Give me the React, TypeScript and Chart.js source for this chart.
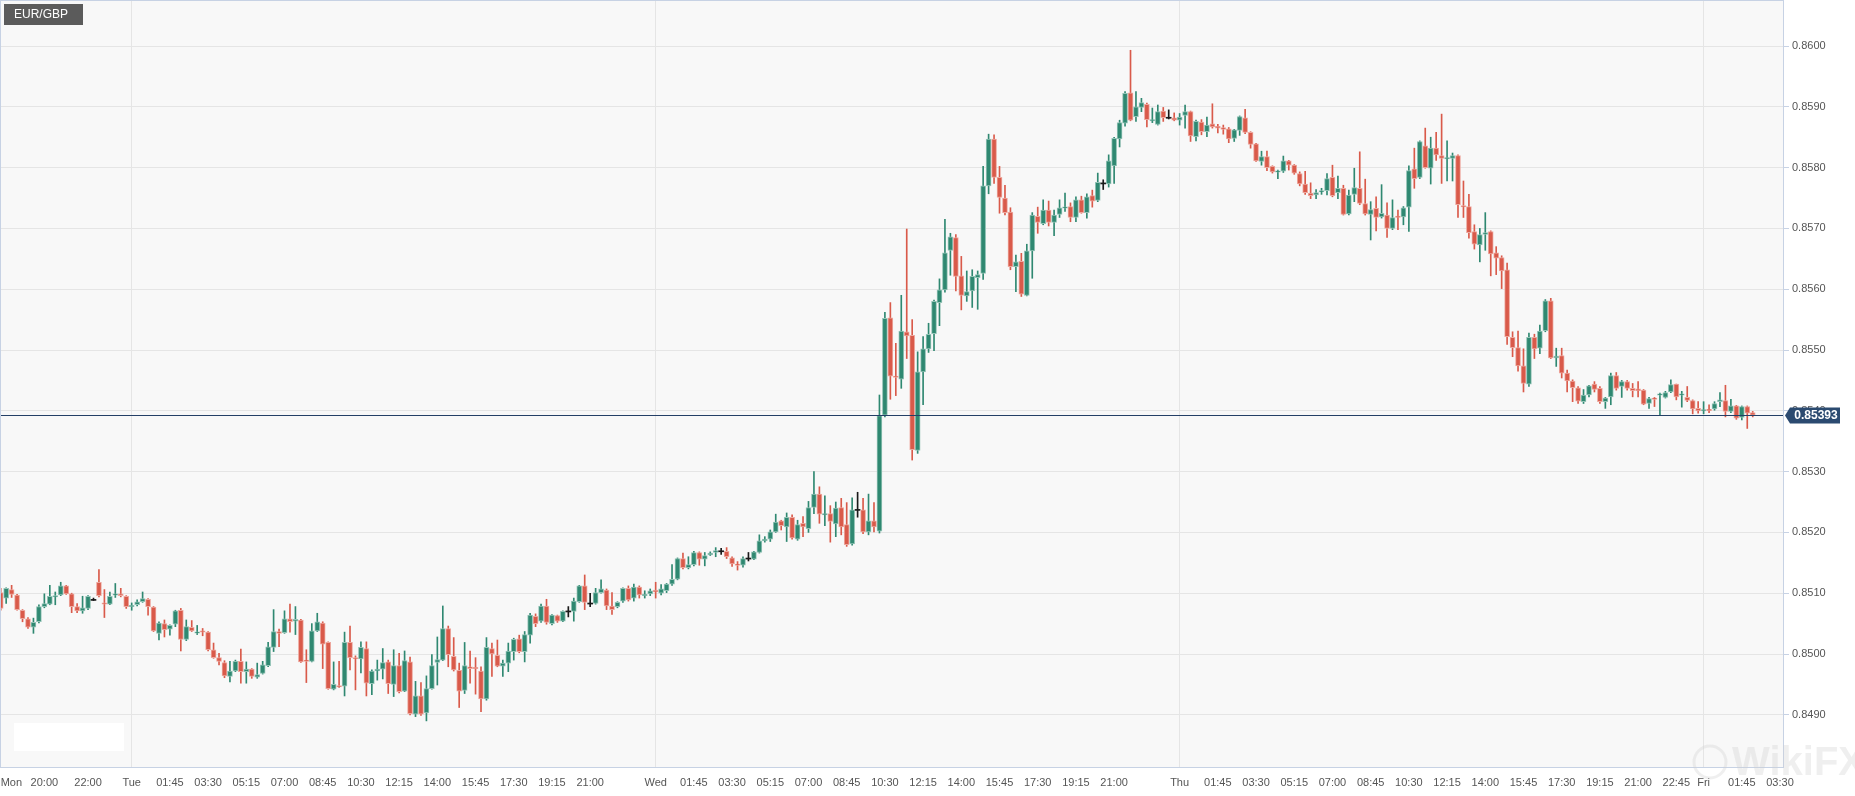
import React, { useEffect, useRef } from "react";
import { Chart, registerables } from "chart.js";

Chart.register(...registerables);

// 15-minute EUR/GBP candles, slot 0 = Mon 18:00
const openPrices = [
  0.85101, 0.85092, 0.85106, 0.85097, 0.85072, 0.85058, 0.85044, 0.85053, 0.85078, 0.85082,
  0.85094, 0.85097, 0.85112, 0.85099, 0.85078, 0.85071, 0.85075, 0.85089, 0.85118, 0.85084,
  0.85082, 0.85097, 0.85099, 0.85095, 0.85078, 0.85081, 0.85086, 0.8509, 0.85077, 0.85034,
  0.8505, 0.85041, 0.85049, 0.85072, 0.85024, 0.85044, 0.85035, 0.85038, 0.85036, 0.85007,
  0.84994, 0.84986, 0.84963, 0.84972, 0.84988, 0.84971, 0.84975, 0.84962, 0.84968, 0.84981,
  0.85011, 0.85037, 0.85035, 0.85058, 0.85054, 0.85056, 0.8499, 0.84988, 0.85038, 0.85051,
  0.85019, 0.84942, 0.84948, 0.84947, 0.85019, 0.84994, 0.84992, 0.85009, 0.84951, 0.84972,
  0.84975, 0.84987, 0.8495, 0.84981, 0.84939, 0.84987, 0.84901, 0.84931, 0.84903, 0.84943,
  0.84986, 0.8499, 0.85042, 0.84996, 0.84973, 0.8494, 0.84979, 0.84978, 0.84972, 0.84926,
  0.85009, 0.84998, 0.8498, 0.84985, 0.85004, 0.85025, 0.85004, 0.85031, 0.85062, 0.85054,
  0.85079, 0.8505, 0.85063, 0.85054, 0.8507, 0.8507, 0.85086, 0.85112, 0.85083, 0.85083,
  0.85101, 0.85105, 0.85079, 0.85078, 0.85087, 0.85108, 0.85092, 0.8511, 0.85096, 0.85099,
  0.85105, 0.851, 0.85104, 0.85115, 0.85123, 0.85157, 0.85142, 0.85147, 0.85167, 0.85156,
  0.85163, 0.85167, 0.85169, 0.85169, 0.85158, 0.85148, 0.85146, 0.85157, 0.85156, 0.85167,
  0.85186, 0.85189, 0.85201, 0.85219, 0.85209, 0.85225, 0.85189, 0.85215, 0.85206, 0.85241,
  0.85263, 0.85229, 0.85231, 0.85214, 0.85241, 0.85213, 0.85181, 0.85237, 0.85237, 0.85201,
  0.85219, 0.85202, 0.85393, 0.85553, 0.85457, 0.85452, 0.8553, 0.85524, 0.85335, 0.85464,
  0.85502, 0.85527, 0.85578, 0.85599, 0.85664, 0.85685, 0.85622, 0.85589, 0.85597, 0.85619,
  0.85626, 0.8577, 0.85847, 0.85784, 0.8575, 0.85727, 0.85637, 0.85646, 0.8559, 0.85663,
  0.8572, 0.85708, 0.8573, 0.8571, 0.85723, 0.85734, 0.85736, 0.85718, 0.85747, 0.85726,
  0.85754, 0.85746, 0.85774, 0.85773, 0.85803, 0.85847, 0.85873, 0.85923, 0.85884, 0.85899,
  0.85904, 0.85877, 0.85871, 0.85893, 0.85882, 0.85882, 0.85878, 0.85886, 0.85892, 0.85851,
  0.85875, 0.85859, 0.85872, 0.85868, 0.85866, 0.85864, 0.85848, 0.85861, 0.85882, 0.85858,
  0.85839, 0.8581, 0.85818, 0.85802, 0.85793, 0.85794, 0.85811, 0.85804, 0.8579, 0.85773,
  0.85758, 0.85755, 0.8576, 0.85762, 0.85784, 0.85759, 0.85766, 0.85724, 0.85756, 0.85766,
  0.85741, 0.85723, 0.85733, 0.85719, 0.85722, 0.857, 0.8572, 0.85719, 0.85735, 0.85798,
  0.85784, 0.85836, 0.85799, 0.85832, 0.8582, 0.85815, 0.85815, 0.8582, 0.85737, 0.85736,
  0.85695, 0.85673, 0.8569, 0.85695, 0.8566, 0.85652, 0.85632, 0.85521, 0.85504, 0.85474,
  0.85444, 0.85521, 0.85503, 0.85532, 0.85581, 0.85487, 0.85491, 0.85462, 0.85449, 0.85438,
  0.85415, 0.85426, 0.85444, 0.85437, 0.85415, 0.85423, 0.85458, 0.8544, 0.85448, 0.85437,
  0.85436, 0.85434, 0.85412, 0.85421, 0.85426, 0.85422, 0.85431, 0.85444, 0.85426, 0.85422,
  0.85417, 0.85404, 0.854, 0.85402, 0.85403, 0.85415, 0.85417, 0.85399, 0.85408, 0.85389,
  0.85407, 0.85397,
];

const highPrices = [
  0.85108, 0.85109, 0.85113, 0.85098, 0.85073, 0.8506, 0.85059, 0.85081, 0.85099, 0.85113,
  0.85102, 0.85118, 0.85113, 0.851, 0.85083, 0.85095, 0.85096, 0.85092, 0.85139, 0.85106,
  0.85102, 0.85116, 0.85108, 0.85096, 0.85084, 0.85089, 0.85102, 0.85091, 0.85078, 0.85053,
  0.85056, 0.85048, 0.85072, 0.85075, 0.85056, 0.85055, 0.85047, 0.85042, 0.85037, 0.85018,
  0.85001, 0.84989, 0.84988, 0.8499, 0.85008, 0.84987, 0.84976, 0.84985, 0.84988, 0.85019,
  0.85073, 0.85041, 0.85071, 0.85082, 0.85078, 0.85057, 0.85007, 0.8505, 0.85067, 0.85053,
  0.8502, 0.84987, 0.84988, 0.85036, 0.85046, 0.84997, 0.8502, 0.8502, 0.84974, 0.8499,
  0.85009, 0.8499, 0.85007, 0.85001, 0.85005, 0.84995, 0.84955, 0.84953, 0.84964, 0.84999,
  0.85028, 0.85079, 0.85046, 0.85027, 0.84985, 0.85019, 0.85005, 0.84994, 0.84979, 0.85027,
  0.85018, 0.85023, 0.8499, 0.85018, 0.85026, 0.85031, 0.85037, 0.85067, 0.85066, 0.85082,
  0.8509, 0.85065, 0.85064, 0.85071, 0.85078, 0.85092, 0.85113, 0.8513, 0.851, 0.85108,
  0.85122, 0.85107, 0.85101, 0.85086, 0.85109, 0.85112, 0.85115, 0.85112, 0.85104, 0.85107,
  0.85118, 0.85114, 0.85116, 0.85147, 0.85158, 0.85166, 0.8516, 0.85169, 0.85168, 0.85167,
  0.85168, 0.85175, 0.85174, 0.85175, 0.8516, 0.85152, 0.8516, 0.85167, 0.85169, 0.85196,
  0.85193, 0.85204, 0.8523, 0.8522, 0.85232, 0.85229, 0.8522, 0.85226, 0.85251, 0.853,
  0.85275, 0.8526, 0.85244, 0.8525, 0.85256, 0.85249, 0.85257, 0.85266, 0.85256, 0.85263,
  0.85249, 0.85426, 0.85562, 0.85578, 0.85511, 0.8559, 0.85699, 0.8555, 0.85497, 0.85522,
  0.85544, 0.85582, 0.85617, 0.85715, 0.85692, 0.8569, 0.85654, 0.8563, 0.85632, 0.8563,
  0.85802, 0.85855, 0.85854, 0.85802, 0.85771, 0.85734, 0.85656, 0.85659, 0.85674, 0.85726,
  0.85735, 0.85747, 0.85745, 0.8573, 0.85747, 0.85758, 0.85742, 0.85752, 0.85753, 0.85757,
  0.85763, 0.85791, 0.8578, 0.85821, 0.8585, 0.85878, 0.85925, 0.85993, 0.85925, 0.85914,
  0.85906, 0.85898, 0.85903, 0.85899, 0.85895, 0.8589, 0.85889, 0.85903, 0.85893, 0.85878,
  0.85879, 0.85883, 0.85905, 0.85871, 0.8587, 0.85866, 0.85863, 0.85885, 0.85896, 0.85859,
  0.8584, 0.85827, 0.85827, 0.85803, 0.85796, 0.85819, 0.85812, 0.85805, 0.85793, 0.85794,
  0.85775, 0.85764, 0.85766, 0.8579, 0.85804, 0.85786, 0.85771, 0.85763, 0.85799, 0.85826,
  0.85781, 0.85744, 0.85752, 0.85772, 0.85742, 0.85747, 0.8573, 0.85736, 0.85803, 0.85832,
  0.85844, 0.85865, 0.8585, 0.85858, 0.85888, 0.85844, 0.85824, 0.85821, 0.85778, 0.85756,
  0.85706, 0.857, 0.85726, 0.85696, 0.8567, 0.85655, 0.85643, 0.8553, 0.85531, 0.85502,
  0.85528, 0.85526, 0.85541, 0.85583, 0.85585, 0.85503, 0.85503, 0.85467, 0.85451, 0.8544,
  0.85435, 0.85442, 0.85448, 0.8544, 0.85422, 0.85462, 0.85463, 0.8545, 0.8545, 0.85445,
  0.85448, 0.85435, 0.85422, 0.85422, 0.85429, 0.85432, 0.85451, 0.85444, 0.85432, 0.8544,
  0.85418, 0.85415, 0.85415, 0.8541, 0.85415, 0.8543, 0.85442, 0.85419, 0.85409, 0.85408,
  0.85408, 0.85399,
];

const lowPrices = [
  0.85072, 0.85083, 0.85093, 0.85072, 0.85053, 0.85042, 0.85034, 0.85051, 0.85076, 0.85081,
  0.85081, 0.85096, 0.85098, 0.85068, 0.85068, 0.85067, 0.85073, 0.85088, 0.85094, 0.8506,
  0.85081, 0.85093, 0.85094, 0.85075, 0.85072, 0.85079, 0.85085, 0.85064, 0.85037, 0.85023,
  0.85028, 0.85031, 0.85045, 0.85005, 0.85022, 0.85037, 0.85032, 0.8503, 0.85005, 0.84993,
  0.84982, 0.84961, 0.84954, 0.84971, 0.84952, 0.84952, 0.8496, 0.8496, 0.84967, 0.84979,
  0.85004, 0.85012, 0.85034, 0.85036, 0.85032, 0.84986, 0.84953, 0.84987, 0.85037, 0.84976,
  0.84942, 0.84941, 0.84945, 0.84931, 0.84974, 0.84941, 0.84969, 0.84931, 0.84933, 0.84957,
  0.84959, 0.84935, 0.8493, 0.84936, 0.84938, 0.849, 0.84897, 0.84899, 0.8489, 0.84942,
  0.84949, 0.84989, 0.84979, 0.84972, 0.84912, 0.84935, 0.84952, 0.84934, 0.84905, 0.84924,
  0.84963, 0.84979, 0.84963, 0.84971, 0.8499, 0.85002, 0.84987, 0.85018, 0.85045, 0.85052,
  0.85049, 0.85048, 0.85052, 0.85053, 0.85061, 0.85054, 0.85085, 0.85073, 0.85078, 0.85082,
  0.851, 0.85073, 0.85065, 0.85076, 0.85085, 0.85087, 0.85087, 0.85092, 0.85092, 0.85096,
  0.85092, 0.85097, 0.85101, 0.85113, 0.85122, 0.8514, 0.8514, 0.85145, 0.85146, 0.85145,
  0.85162, 0.8516, 0.85164, 0.85157, 0.85144, 0.85138, 0.85143, 0.85153, 0.85155, 0.85166,
  0.85184, 0.85185, 0.852, 0.85204, 0.85185, 0.85189, 0.85187, 0.85193, 0.852, 0.85231,
  0.85215, 0.85211, 0.85184, 0.85193, 0.85196, 0.85177, 0.85179, 0.85225, 0.85198, 0.85196,
  0.85201, 0.85199, 0.8539, 0.85419, 0.85425, 0.85437, 0.85486, 0.85319, 0.8533, 0.8541,
  0.85496, 0.85499, 0.8554, 0.85595, 0.85623, 0.85597, 0.85566, 0.8558, 0.8557, 0.85567,
  0.85616, 0.85757, 0.85774, 0.85725, 0.85722, 0.85632, 0.85596, 0.85588, 0.85589, 0.85618,
  0.85692, 0.85706, 0.85704, 0.85688, 0.85718, 0.85728, 0.85711, 0.85711, 0.85725, 0.85717,
  0.85735, 0.85744, 0.85764, 0.85768, 0.85774, 0.85834, 0.85868, 0.85877, 0.85876, 0.85892,
  0.85867, 0.85874, 0.8587, 0.85876, 0.8588, 0.85877, 0.8587, 0.85865, 0.85843, 0.85844,
  0.85854, 0.85851, 0.85865, 0.85857, 0.85855, 0.85841, 0.85843, 0.85853, 0.85856, 0.85832,
  0.8581, 0.85804, 0.85795, 0.85791, 0.85782, 0.85792, 0.85796, 0.85789, 0.8577, 0.85756,
  0.85749, 0.85749, 0.85756, 0.85755, 0.85752, 0.85749, 0.85722, 0.85722, 0.85744, 0.85739,
  0.85722, 0.85681, 0.85696, 0.85717, 0.85685, 0.85698, 0.85698, 0.85706, 0.85695, 0.85766,
  0.85782, 0.85799, 0.85773, 0.85812, 0.85774, 0.85778, 0.85778, 0.85718, 0.85718, 0.85684,
  0.85666, 0.85645, 0.85664, 0.85622, 0.85624, 0.85601, 0.85509, 0.85489, 0.85465, 0.85431,
  0.8544, 0.85486, 0.85494, 0.8553, 0.85486, 0.85473, 0.85454, 0.85431, 0.85415, 0.85412,
  0.85412, 0.85423, 0.85431, 0.85412, 0.85404, 0.8541, 0.85434, 0.85422, 0.85434, 0.85423,
  0.85423, 0.8541, 0.85404, 0.85407, 0.85393, 0.85421, 0.8543, 0.85418, 0.85406, 0.85415,
  0.85395, 0.85396, 0.85395, 0.85397, 0.85401, 0.85407, 0.8539, 0.85397, 0.85386, 0.85385,
  0.85371, 0.8539,
];

const closePrices = [
  0.85075, 0.85108, 0.85098, 0.85073, 0.85058, 0.85044, 0.85052, 0.85078, 0.85083, 0.85095,
  0.85096, 0.85112, 0.85099, 0.85078, 0.85071, 0.85076, 0.85095, 0.85089, 0.85096, 0.85082,
  0.85095, 0.85099, 0.85096, 0.85078, 0.8508, 0.85086, 0.85091, 0.85078, 0.85038, 0.85051,
  0.8504, 0.85047, 0.85071, 0.85024, 0.85045, 0.85038, 0.85036, 0.85036, 0.85007, 0.84994,
  0.84988, 0.84964, 0.84972, 0.84988, 0.84971, 0.84975, 0.84963, 0.84966, 0.84982, 0.85012,
  0.85037, 0.85034, 0.85058, 0.85053, 0.85057, 0.84987, 0.84988, 0.85038, 0.85053, 0.85016,
  0.84943, 0.8495, 0.84946, 0.85019, 0.84994, 0.84992, 0.85011, 0.84952, 0.84972, 0.84975,
  0.84986, 0.84951, 0.84981, 0.84938, 0.84989, 0.84902, 0.84931, 0.84901, 0.84943, 0.84981,
  0.84991, 0.85042, 0.84999, 0.84974, 0.84939, 0.84981, 0.84976, 0.84976, 0.84926, 0.85011,
  0.85, 0.8498, 0.84985, 0.85005, 0.85024, 0.85004, 0.85032, 0.85064, 0.8505, 0.85079,
  0.85052, 0.85064, 0.85054, 0.8507, 0.8507, 0.85087, 0.85112, 0.85085, 0.85083, 0.85101,
  0.85107, 0.85079, 0.85073, 0.85085, 0.85108, 0.85089, 0.8511, 0.85097, 0.85098, 0.85104,
  0.85102, 0.85107, 0.85115, 0.85123, 0.85157, 0.85142, 0.85147, 0.85167, 0.85156, 0.85162,
  0.85166, 0.8517, 0.85169, 0.8516, 0.85148, 0.85146, 0.85157, 0.85157, 0.85168, 0.85186,
  0.85189, 0.85201, 0.85217, 0.85211, 0.85225, 0.85191, 0.85213, 0.85209, 0.85241, 0.85263,
  0.8523, 0.85231, 0.85218, 0.8524, 0.85209, 0.8518, 0.85237, 0.85237, 0.85201, 0.85219,
  0.85209, 0.85392, 0.85552, 0.85457, 0.85455, 0.85531, 0.85523, 0.85336, 0.85464, 0.85502,
  0.85526, 0.8558, 0.85599, 0.8566, 0.85686, 0.85621, 0.8559, 0.85596, 0.85621, 0.85624,
  0.8577, 0.85847, 0.85784, 0.85751, 0.85726, 0.85637, 0.85645, 0.85592, 0.85663, 0.85722,
  0.8571, 0.8573, 0.8571, 0.85722, 0.85734, 0.85735, 0.85718, 0.85747, 0.85726, 0.85752,
  0.85745, 0.85776, 0.85774, 0.85811, 0.85848, 0.85874, 0.85922, 0.85878, 0.859, 0.85907,
  0.85879, 0.85879, 0.85892, 0.85882, 0.85882, 0.85878, 0.85883, 0.85892, 0.85852, 0.85876,
  0.85859, 0.8587, 0.85867, 0.85865, 0.85863, 0.85847, 0.85862, 0.85884, 0.85858, 0.85838,
  0.85811, 0.85818, 0.858, 0.85793, 0.85794, 0.85811, 0.85804, 0.85791, 0.85773, 0.85759,
  0.85754, 0.85759, 0.85762, 0.85782, 0.85754, 0.85766, 0.85723, 0.85755, 0.85767, 0.85741,
  0.85724, 0.85731, 0.85718, 0.85725, 0.857, 0.85718, 0.85718, 0.85734, 0.85795, 0.85782,
  0.85843, 0.858, 0.85832, 0.85821, 0.85815, 0.85816, 0.8582, 0.85739, 0.85736, 0.85693,
  0.85674, 0.8569, 0.85693, 0.85658, 0.85651, 0.8563, 0.85522, 0.85504, 0.85474, 0.85445,
  0.85521, 0.85502, 0.85531, 0.85581, 0.85487, 0.8549, 0.85462, 0.85449, 0.85438, 0.85416,
  0.85426, 0.85441, 0.85435, 0.85415, 0.85421, 0.85458, 0.85437, 0.85448, 0.85437, 0.85433,
  0.85433, 0.85411, 0.8542, 0.85419, 0.85428, 0.8543, 0.85443, 0.85423, 0.85428, 0.85417,
  0.85403, 0.854, 0.85402, 0.85401, 0.85412, 0.85418, 0.85399, 0.85408, 0.85388, 0.85407,
  0.85396, 0.85393,
];

const symbolName = "EUR/GBP";
const currentPrice = 0.85393;
const priceTicks = [0.849, 0.85, 0.851, 0.852, 0.853, 0.854, 0.855, 0.856, 0.857, 0.858, 0.859, 0.86];
const timeTickLabels = [
  "Mon", "20:00", "22:00",
  "Tue", "01:45", "03:30", "05:15", "07:00", "08:45", "10:30", "12:15", "14:00", "15:45", "17:30", "19:15", "21:00",
  "Wed", "01:45", "03:30", "05:15", "07:00", "08:45", "10:30", "12:15", "14:00", "15:45", "17:30", "19:15", "21:00",
  "Thu", "01:45", "03:30", "05:15", "07:00", "08:45", "10:30", "12:15", "14:00", "15:45", "17:30", "19:15", "21:00", "22:45",
  "Fri", "01:45", "03:30",
];
// slot (15-minute candle index) of each time label
const timeTickSlots = [
  0, 8, 16,
  24, 31, 38, 45, 52, 59, 66, 73, 80, 87, 94, 101, 108,
  120, 127, 134, 141, 148, 155, 162, 169, 176, 183, 190, 197, 204,
  216, 223, 230, 237, 244, 251, 258, 265, 272, 279, 286, 293, 300, 307,
  312, 319, 326,
];
const daySlots = [24, 120, 216, 312];
const slotRange = [-0.128, 326.73];
const priceRange = [0.848125, 0.860757];

const UP = "#2f8871";
const DOWN = "#d95a4a";
const DOJI = "#1a1a1a";
const UP_EDGE = "#93c3b6";
const DOWN_EDGE = "#eda89f";
const FONT = "'Liberation Sans', Arial, sans-serif";

export default function App() {
  const ref = useRef<HTMLCanvasElement | null>(null);

  useEffect(() => {
    document.body.style.margin = "0";
    const canvas = ref.current;
    if (!canvas) return;

    const n = closePrices.length;
    const dir = closePrices.map((c, i) => (c > openPrices[i] ? 1 : c < openPrices[i] ? -1 : 0));
    const fill = dir.map((d) => (d > 0 ? UP : d < 0 ? DOWN : DOJI));
    const edge = dir.map((d) => (d > 0 ? UP_EDGE : d < 0 ? DOWN_EDGE : DOJI));
    const minBody = 0.000022;

    const wickData = [];
    const bodyData = [];
    for (let i = 0; i < n; i++) {
      wickData.push({ x: i, y: [lowPrices[i], highPrices[i]] });
      const lo = Math.min(openPrices[i], closePrices[i]);
      const hi = Math.max(openPrices[i], closePrices[i]);
      if (dir[i] === 0) {
        bodyData.push({ x: i, y: [lo - 0.0000085, hi + 0.0000085] });
      } else if (hi - lo < minBody) {
        const m = (hi + lo) / 2;
        bodyData.push({ x: i, y: [m - minBody / 2, m + minBody / 2] });
      } else {
        bodyData.push({ x: i, y: [lo, hi] });
      }
    }

    const decor = {
      id: "decor",
      beforeDraw(chart: any) {
        const { ctx, chartArea: a } = chart;
        ctx.save();
        ctx.fillStyle = "#ffffff";
        ctx.fillRect(0, 0, chart.width, chart.height);
        ctx.fillStyle = "#f8f8f8";
        ctx.fillRect(a.left, a.top, a.right - a.left, a.bottom - a.top);
        ctx.restore();
      },
      afterDatasetsDraw(chart: any) {
        const { ctx, chartArea: a } = chart;
        const y = Math.round(chart.scales.y.getPixelForValue(currentPrice)) + 0.5;
        ctx.save();
        ctx.strokeStyle = "#243f66";
        ctx.lineWidth = 1;
        ctx.beginPath();
        ctx.moveTo(a.left, y);
        ctx.lineTo(a.right, y);
        ctx.stroke();
        ctx.restore();
      },
      afterDraw(chart: any) {
        const { ctx, chartArea: a } = chart;
        ctx.save();
        // plot frame
        ctx.strokeStyle = "#c7d2e4";
        ctx.lineWidth = 1;
        ctx.strokeRect(a.left + 0.5, a.top + 0.5, a.right - a.left - 1, a.bottom - a.top - 1);

        // current price tag
        const y = Math.round(chart.scales.y.getPixelForValue(currentPrice)) + 0.5;
        const bx = a.right + 6;
        ctx.fillStyle = "#2b4a70";
        ctx.beginPath();
        ctx.moveTo(a.right + 1, y);
        ctx.lineTo(bx, y - 8);
        ctx.lineTo(bx + 50, y - 8);
        ctx.lineTo(bx + 50, y + 8);
        ctx.lineTo(bx, y + 8);
        ctx.closePath();
        ctx.fill();
        ctx.fillStyle = "#ffffff";
        ctx.font = `bold 12px ${FONT}`;
        ctx.textAlign = "center";
        ctx.textBaseline = "middle";
        ctx.fillText(currentPrice.toFixed(5), bx + 26, y + 0.5);

        // symbol tag
        ctx.fillStyle = "#5b5b5b";
        ctx.fillRect(4, 4, 79, 21);
        ctx.fillStyle = "#ffffff";
        ctx.font = `12px ${FONT}`;
        ctx.textAlign = "left";
        ctx.fillText(symbolName, 14, 15);

        // blank logo plate
        ctx.fillStyle = "#ffffff";
        ctx.fillRect(14, 723, 110, 28);

        // watermark
        ctx.globalAlpha = 0.35;
        ctx.strokeStyle = "#d0d0d0";
        ctx.lineWidth = 3;
        ctx.beginPath();
        ctx.arc(1710, 762, 16, 0, Math.PI * 2);
        ctx.stroke();
        ctx.fillStyle = "#d0d0d0";
        ctx.font = `bold 40px ${FONT}`;
        ctx.textAlign = "left";
        ctx.fillText("WikiFX", 1732, 764);
        ctx.restore();
      },
    };

    const chart = new Chart(canvas, {
      type: "bar",
      data: {
        datasets: [
          {
            data: bodyData as any,
            backgroundColor: fill,
            borderColor: edge,
            borderWidth: dir.map((d) => (d === 0 ? 0 : 1)),
            borderSkipped: false,
            barThickness: 5,
            grouped: false,
            order: 1,
          } as any,
          {
            data: wickData as any,
            backgroundColor: fill,
            borderWidth: 0,
            barThickness: 1,
            grouped: false,
            order: 2,
          } as any,
        ],
      },
      options: {
        animation: false,
        responsive: false,
        maintainAspectRatio: false,
        layout: { padding: 0 },
        events: [],
        plugins: { legend: { display: false }, tooltip: { enabled: false } },
        scales: {
          x: {
            type: "linear",
            min: slotRange[0],
            max: slotRange[1],
            offset: false,
            border: { display: false },
            grid: {
              offset: false,
              drawTicks: false,
              color: (ctx: any) =>
                ctx.tick && daySlots.includes(ctx.tick.value) ? "#e5e5e5" : "rgba(0,0,0,0)",
            },
            ticks: {
              autoSkip: false,
              maxRotation: 0,
              minRotation: 0,
              align: "inner",
              padding: 8,
              color: "#555555",
              font: { family: FONT, size: 11 },
              callback: (_v: any, i: number) => (i < timeTickLabels.length ? timeTickLabels[i] : ""),
            },
            afterBuildTicks: (s: any) => {
              s.ticks = timeTickSlots.map((v) => ({ value: v })).concat([{ value: slotRange[1] }]);
            },
            afterFit: (s: any) => {
              s.height = 28;
              s.paddingLeft = 0;
              s.paddingRight = 0;
              s.paddingTop = 0;
              s.paddingBottom = 0;
            },
          } as any,
          y: {
            type: "linear",
            position: "right",
            min: priceRange[0],
            max: priceRange[1],
            border: { display: false },
            grid: { color: "#e5e5e5", tickColor: "#c7d2e4", tickLength: 5 },
            ticks: {
              padding: 3,
              color: "#555555",
              font: { family: FONT, size: 11 },
              callback: (v: any) => Number(v).toFixed(4),
            },
            afterBuildTicks: (s: any) => {
              s.ticks = priceTicks.map((v) => ({ value: v }));
            },
            afterFit: (s: any) => {
              s.width = 71;
              s.paddingLeft = 0;
              s.paddingRight = 0;
              s.paddingTop = 0;
              s.paddingBottom = 0;
            },
          } as any,
        },
      },
      plugins: [decor],
    });

    return () => chart.destroy();
  }, []);

  return (
    <div style={{ position: "absolute", left: 0, top: 0, width: 1855, height: 796 }}>
      <canvas ref={ref} width={1855} height={796} style={{ display: "block" }} />
    </div>
  );
}
